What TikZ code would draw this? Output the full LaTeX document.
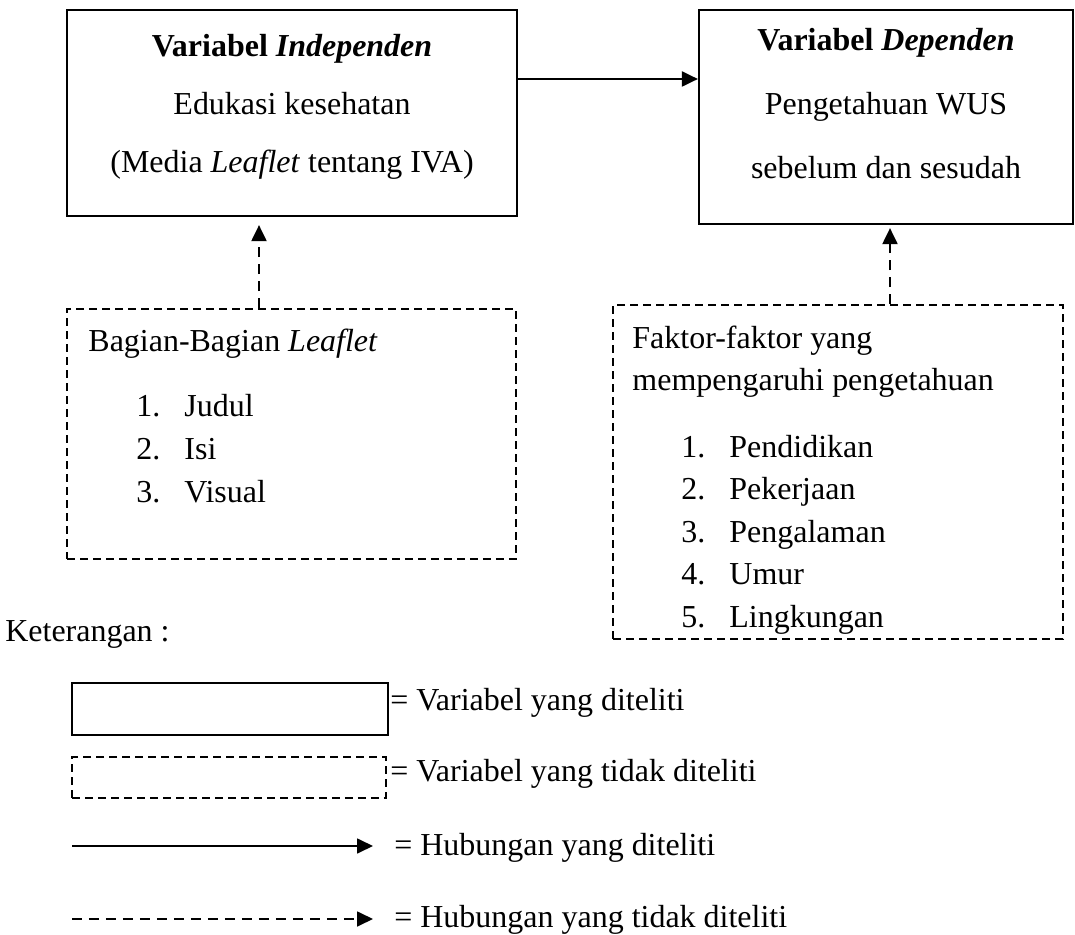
\documentclass[tikz,border=0pt]{standalone}
\usepackage{fontspec}
\setmainfont{Liberation Serif}
\usetikzlibrary{arrows.meta,positioning}

\tikzset{
  varbox/.style={draw, line width=1.3pt, inner sep=0pt},
  openbox/.style={draw, line width=1.1pt, dash pattern=on 0.16cm off 0.1cm, inner sep=0pt},
  linkarrow/.style={line width=1.2pt, -{Triangle[length=0.32cm,width=0.3cm]}},
  dasharrow/.style={linkarrow, dash pattern=on 0.2cm off 0.14cm},
  txt/.style={anchor=base west, inner sep=0pt},
}

\begin{document}
\begin{tikzpicture}[x=0.02cm, y=-0.02cm,
    every node/.style={font=\fontsize{18.2}{33}\selectfont}]
  \useasboundingbox (0,0) rectangle (1075,935);

  % researched variables
  \node[varbox, minimum width=9cm, minimum height=4.12cm] (indep) at (292,113) {};
  \node[align=center, inner sep=0pt] (indeptext) at ([yshift=0.12cm]indep.center)
    {\textbf{Variabel \textit{Independen}}\\ Edukasi kesehatan\\ (Media \textit{Leaflet} tentang IVA)};
  \node[varbox, minimum width=7.48cm, minimum height=4.28cm] (dep) at (886,117) {};
  \node[align=center, inner sep=0pt, font=\fontsize{18.2}{36.4}\selectfont] (deptext)
    at ([yshift=0.26cm]dep.center)
    {\textbf{Variabel \textit{Dependen}}\\ Pengetahuan WUS\\ sebelum dan sesudah};
  \coordinate (ay) at (0,79);
  \draw[linkarrow] (indep.east |- ay) -- (dep.west |- ay);

  % Bagian-bagian leaflet
  \node[openbox, minimum width=8.98cm, minimum height=5cm] (leaf) at (291.5,434) {};
  \node[txt] (leafhead) at ([shift={(22,43)}]leaf.north west) {Bagian-Bagian \textit{Leaflet}};
  \foreach \t [count=\k] in {Judul, Isi, Visual} {
    \node[txt] (lnum\k) at ([shift={(48,{65+43*(\k-1)})}]leafhead.base west) {\k.};
    \node[txt] (litem\k) at ([shift={(96,{65+43*(\k-1)})}]leafhead.base west) {\t};
  }

  % faktor pengetahuan
  \node[openbox, minimum width=9cm, minimum height=6.68cm] (fakt) at (838,472) {};
  \node[txt] (fhead) at ([shift={(20,44)}]fakt.north west) {Faktor-faktor yang};
  \node[txt] (fhead2) at ([shift={(0,42)}]fhead.base west) {mempengaruhi pengetahuan};
  \foreach \t [count=\k] in {Pendidikan, Pekerjaan, Pengalaman, Umur, Lingkungan} {
    \node[txt] (fnum\k) at ([shift={(49,{67+42.5*(\k-1)})}]fhead2.base west) {\k.};
    \node[txt] (fitem\k) at ([shift={(97,{67+42.5*(\k-1)})}]fhead2.base west) {\t};
  }

  \coordinate (la) at (259,0);
  \coordinate (lb) at (890,0);
  \draw[dasharrow, shorten >=0.16cm] (leaf.north -| la) -- (indep.south -| la);
  \draw[dasharrow, shorten >=0.06cm] (fakt.north -| lb) -- (dep.south -| lb);

  % keterangan
  \node[txt] (ket) at (5,641) {Keterangan :};
  \node[varbox, minimum width=6.32cm, minimum height=1.04cm] (keybox) at (230,709) {};
  \node[openbox, line width=0.8pt, minimum width=6.28cm, minimum height=0.82cm] (keyopen) at (229,777.5) {};
  \coordinate (ks1) at (72,846);
  \coordinate (ke1) at (373,846);
  \coordinate (ks2) at (72,919);
  \coordinate (ke2) at (373,919);
  \draw[linkarrow, line width=1pt] (ks1) -- (ke1);
  \draw[dasharrow, line width=1pt] (ks2) -- (ke2);
  \node[txt] (key1) at (390,710) {= Variabel yang diteliti};
  \node[txt] (key2) at (390,781) {= Variabel yang tidak diteliti};
  \node[txt] (key3) at (394,855) {= Hubungan yang diteliti};
  \node[txt] (key4) at (394,927) {= Hubungan yang tidak diteliti};
\end{tikzpicture}
\end{document}
